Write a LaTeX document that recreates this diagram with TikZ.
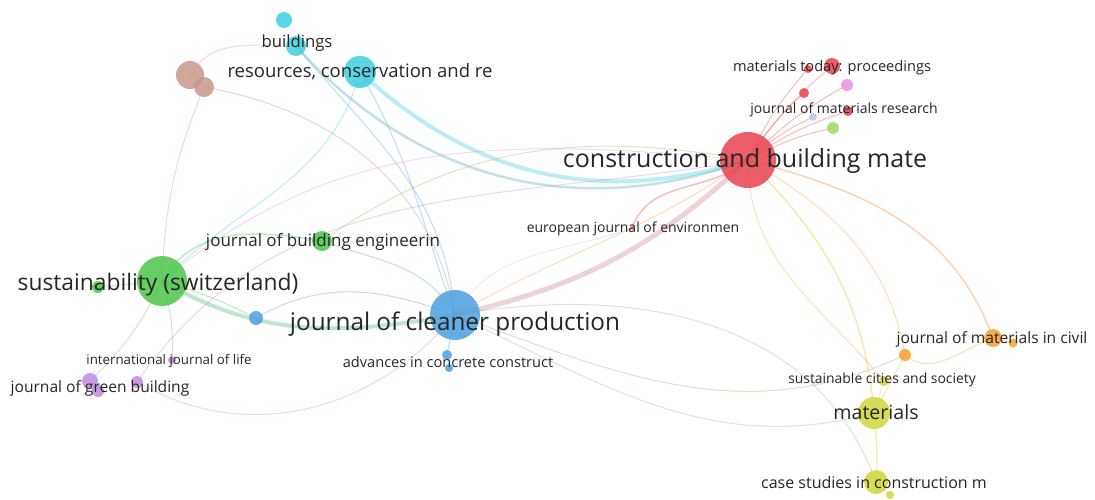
\documentclass[tikz,border=0pt]{standalone}
\usepackage{fontspec}
\setmainfont{Open Sans}
\usetikzlibrary{backgrounds}

\definecolor{cred}{HTML}{E8414C}
\definecolor{ccyan}{HTML}{3CCFE0}
\definecolor{cblue}{HTML}{4C9FE0}
\definecolor{cgreen}{HTML}{4DC44A}
\definecolor{cbrown}{HTML}{C8968A}
\definecolor{cyellow}{HTML}{CFD63A}
\definecolor{corange}{HTML}{F5A030}
\definecolor{cpurple}{HTML}{C08BE0}
\definecolor{cpink}{HTML}{E890E0}
\definecolor{clgreen}{HTML}{9CDA6C}
\definecolor{clblue}{HTML}{B0C8F0}

\tikzset{
  vnode/.style={circle, inner sep=0pt, minimum size=#1, fill opacity=.85},
  lbl/.style={text=black!85, inner sep=0pt, font=\fontsize{#1}{#1}\selectfont},
  link/.style={line width=#1, opacity=.35},
}

\begin{document}
\begin{tikzpicture}[x=1pt,y=1pt]
    \useasboundingbox (0,0) rectangle (1095,-499);

    % journals
    \node[vnode=16, fill=ccyan] (bld0) at (284,-20) {};
    \node[vnode=20, fill=ccyan] (bld) at (296,-46) {};
    \node[vnode=32, fill=ccyan] (res) at (360,-72) {};
    \node[vnode=28, fill=cbrown] (brn1) at (190,-75) {};
    \node[vnode=20, fill=cbrown] (brn2) at (204,-87) {};
    \node[vnode=56, fill=cred] (cbm) at (748,-160) {};
    \node[vnode=16, fill=cred] (mtp) at (832,-66) {};
    \node[vnode=8, fill=cred] (r1) at (808,-69) {};
    \node[vnode=10, fill=cred] (r2) at (804,-93) {};
    \node[vnode=12, fill=cpink] (pk) at (847,-85) {};
    \node[vnode=10, fill=cred] (r3) at (848,-111) {};
    \node[vnode=8, fill=clblue] (lb) at (813,-117) {};
    \node[vnode=12, fill=clgreen] (lg) at (833,-128) {};
    \node[vnode=5, fill=cred!60] (eje) at (632,-228) {};
    \node[vnode=20, fill=cgreen] (jbe) at (322,-241) {};
    \node[vnode=50, fill=cgreen] (sust) at (162,-281) {};
    \node[vnode=12, fill=cgreen] (sg2) at (98,-287) {};
    \node[vnode=14, fill=cblue] (sb) at (256,-318) {};
    \node[vnode=50, fill=cblue] (jcp) at (455,-315) {};
    \node[vnode=10, fill=cblue] (acc) at (447,-355) {};
    \node[vnode=8, fill=cblue] (acc2) at (449,-368) {};
    \node[vnode=8, fill=cpurple] (ijl) at (172,-360) {};
    \node[vnode=16, fill=cpurple] (jgb) at (90,-381) {};
    \node[vnode=12, fill=cpurple] (jgb2) at (98,-391) {};
    \node[vnode=12, fill=cpurple] (jgb3) at (137,-382) {};
    \node[vnode=18, fill=corange] (jmc) at (993,-338) {};
    \node[vnode=9, fill=corange] (jmc2) at (1013,-343) {};
    \node[vnode=12, fill=corange] (oc) at (905,-355) {};
    \node[vnode=10, fill=cyellow] (scs) at (884,-381) {};
    \node[vnode=32, fill=cyellow] (mat) at (874,-413) {};
    \node[vnode=24, fill=cyellow] (csc) at (876,-482) {};
    \node[vnode=8, fill=cyellow] (csc2) at (890,-495) {};

    % links
    \begin{scope}[on background layer]
    \draw[link=5, color=cred!55!clblue] (cbm.center) to[bend left=15] (jcp.center);
    \draw[link=4, color=ccyan] (res.center) to[bend right=30] (cbm.center);
    \draw[link=2.5, color=ccyan!50!gray] (bld.center) to[bend right=34] (cbm.center);
    \draw[link=1, color=cpink] (sust.center) to[out=40,in=175] (cbm.center);
    \draw[link=1, color=corange!60!cgreen] (jbe.center) to[out=35,in=170] (cbm.center);
    \draw[link=1, color=cpurple] (jgb3.center) to[out=55,in=190] (cbm.center);
    \draw[link=1, color=cbrown!70!gray] (brn2.center) to[out=-10,in=100] (jcp.center);
    \draw[link=1, color=cbrown] (brn2.center) to[bend right=10] (sust.center);
    \draw[link=1, color=cbrown] (bld.center) to[out=180,in=60] (brn1.center);
    \draw[link=1, color=cblue] (res.center) to[out=-60,in=110] (jcp.center);
    \draw[link=1, color=cblue] (bld.center) to[out=-50,in=95] (jcp.center);
    \draw[link=1, color=ccyan] (res.center) to[out=-105,in=45] (sust.center);
    \draw[link=4, color=cgreen!60!cblue] (sust.center) to[out=-30,in=190] (jcp.center);
    \draw[link=1.5, color=cgreen] (sust.center) to[out=60,in=170] (jbe.center);
    \draw[link=1, color=cgreen] (sust.center) to[bend left=5] (sb.center);
    \draw[link=1, color=cblue] (sb.center) to[out=30,in=160] (jcp.center);
    \draw[link=1, color=cgreen] (sust.center) -- (sg2.center);
    \draw[link=1, color=cgreen!50!cpurple] (sust.center) to[bend left=10] (jgb.center);
    \draw[link=1, color=cgreen!50!cpurple] (sust.center) to[bend left=10] (ijl.center);
    \draw[link=1, color=cpurple] (jgb3.center) to[out=-30,in=230] (jcp.center);
    \draw[link=1, color=cblue] (jbe.center) to[out=-20,in=120] (jcp.center);
    \draw[link=1, color=cblue] (acc.center) -- (jcp.center);
    \draw[link=1, color=cblue] (acc2.center) -- (acc.center);
    \draw[link=1, color=corange] (jcp.center) to[out=30,in=215] (cbm.center);
    \draw[link=1, color=clblue] (jcp.center) to[out=60,in=200] (eje.center);
    \draw[link=1.5, color=cred] (cbm.center) to[out=220,in=70] (eje.center);
    \draw[link=1, color=cblue!50!cyellow] (jcp.center) to[out=10,in=110] (csc.center);
    \draw[link=1, color=cblue!50!cyellow] (jcp.center) to[out=-25,in=195] (mat.center);
    \draw[link=1, color=corange!60!cblue] (jcp.center) to[out=-20,in=205] (oc.center);
    \draw[link=1, color=corange!70!cyellow] (cbm.center) to[out=-90,in=130] (scs.center);
    \draw[link=1.5, color=cyellow!60!corange] (cbm.center) to[out=-45,in=95] (mat.center);
    \draw[link=1, color=corange] (cbm.center) to[out=-30,in=100] (oc.center);
    \draw[link=1.5, color=corange!70!cred] (cbm.center) to[out=-15,in=110] (jmc.center);
    \draw[link=1, color=corange] (oc.center) to[out=-40,in=200] (jmc.center);
    \draw[link=1, color=corange] (jmc.center) -- (jmc2.center);
    \draw[link=1, color=corange!50!cyellow] (oc.center) -- (mat.center);
    \draw[link=1, color=cyellow] (scs.center) -- (mat.center);
    \draw[link=1.5, color=cyellow] (mat.center) to[bend left=5] (csc.center);
    \draw[link=1, color=cyellow] (csc.center) -- (csc2.center);
    \foreach \t in {mtp,r1,r2,r3,pk,lb,lg} {
        \draw[link=1, color=cred] (cbm.center) to[bend left=8] (\t.center);
    }
    \end{scope}

    % labels
    \node[lbl=16.7] (lbld) at (297,-43) {buildings};
    \node[lbl=18.5] (lres) at (360,-72) {resources, conservation and re};
    \node[lbl=25] (lcbm) at (745,-161) {construction and building mate};
    \node[lbl=14.6] (lmtp) at (832,-68) {materials today: proceedings};
    \node[lbl=14] (ljmr) at (844,-110) {journal of materials research};
    \node[lbl=14] (leje) at (633,-229) {european journal of environmen};
    \node[lbl=17] (ljbe) at (323,-242) {journal of building engineerin};
    \node[lbl=22.8] (lsust) at (158,-285) {sustainability (switzerland)};
    \node[lbl=24.3] (ljcp) at (455,-324) {journal of cleaner production};
    \node[lbl=14.6] (lacc) at (448,-362) {advances in concrete construct};
    \node[lbl=13.3] (lijl) at (169,-361) {international journal of life};
    \node[lbl=15.6] (ljgb) at (100,-388) {journal of green building};
    \node[lbl=15.6] (ljmc) at (992,-339) {journal of materials in civil};
    \node[lbl=13.9] (lscs) at (882,-380) {sustainable cities and society};
    \node[lbl=19.6] (lmat) at (876,-412) {materials};
    \node[lbl=16] (lcsc) at (874,-482) {case studies in construction m};
\end{tikzpicture}
\end{document}
